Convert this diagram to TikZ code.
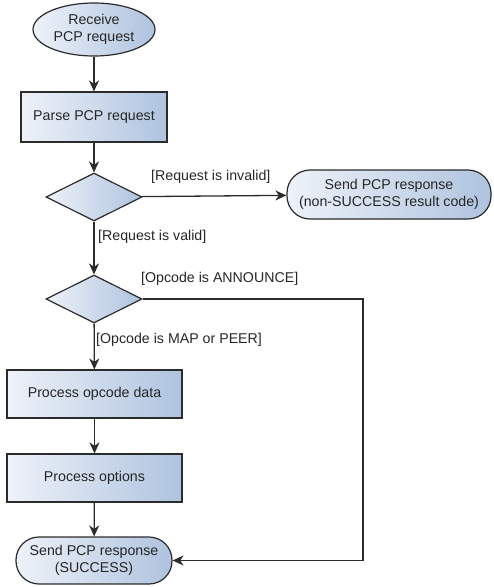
\documentclass[tikz,border=0pt]{standalone}
\usepackage{fontspec}
\setmainfont{Liberation Sans}
\usetikzlibrary{shapes.geometric,arrows.meta}
\definecolor{boxlight}{HTML}{EEF2F9}
\definecolor{boxdark}{HTML}{AFC3DF}
\definecolor{edgegray}{HTML}{2B2B2B}
\begin{document}
\begin{tikzpicture} [x=1pt, y=-1pt]
\tikzstyle{every node}=[font=\fontsize{14.2}{17}\selectfont, text=black!85, align=center];
\tikzstyle{box}=[draw=edgegray, line width=1.2pt, left color=boxlight, right color=boxdark, inner sep=0pt];
\tikzstyle{act}=[box, rectangle];
\tikzstyle{term}=[box, rectangle, rounded corners=23pt];
\tikzstyle{choice}=[box, diamond, aspect=2, minimum width=96pt, minimum height=48pt];
\tikzstyle{guard}=[inner sep=0pt, anchor=west];
\tikzstyle{flow}=[draw=edgegray, line width=1.3pt, -{Stealth[length=11pt, width=10pt, inset=3.5pt]}];
\useasboundingbox (0,0) rectangle (494,587);
\node [box, ellipse, minimum width=122pt, minimum height=53pt] (recv) at (94,29.5) {Receive\\PCP request};
\node [act, minimum width=146pt, minimum height=50pt] (parse) at (94,117) {Parse PCP request};
\node [choice] (valid) at (94,197) {};
\node [term, minimum width=204pt, minimum height=49pt] (fail) at (389,194.5) {Send PCP response\\(non-SUCCESS result code)};
\node [choice] (opcode) at (94,299) {};
\node [act, minimum width=175pt, minimum height=48pt] (data) at (94.5,394) {Process opcode data};
\node [act, minimum width=175pt, minimum height=48pt] (opts) at (94.5,478) {Process options};
\node [term, minimum width=156pt, minimum height=47pt] (done) at (94,560.5) {Send PCP response\\(SUCCESS)};
\coordinate (bend) at (363,299);
\node [guard] (invalidtxt) at (151,177) {[Request is invalid]};
\node [guard] (validtxt) at (98,237) {[Request is valid]};
\node [guard] (announcetxt) at (141,279) {[Opcode is ANNOUNCE]};
\node [guard] (maptxt) at (96,340) {[Opcode is MAP or PEER]};
\draw [flow] (recv) -- (parse);
\draw [flow] (parse) -- (valid);
\draw [flow] (valid) -- (fail);
\draw [flow] (valid) -- (opcode);
\draw [flow] (opcode) -- (data);
\draw [flow] (data) -- (opts);
\draw [flow] (opts) -- (done);
\draw [flow] (opcode.east) -- (bend) |- (done.east); % ANNOUNCE skips processing
\end{tikzpicture}
\end{document}
